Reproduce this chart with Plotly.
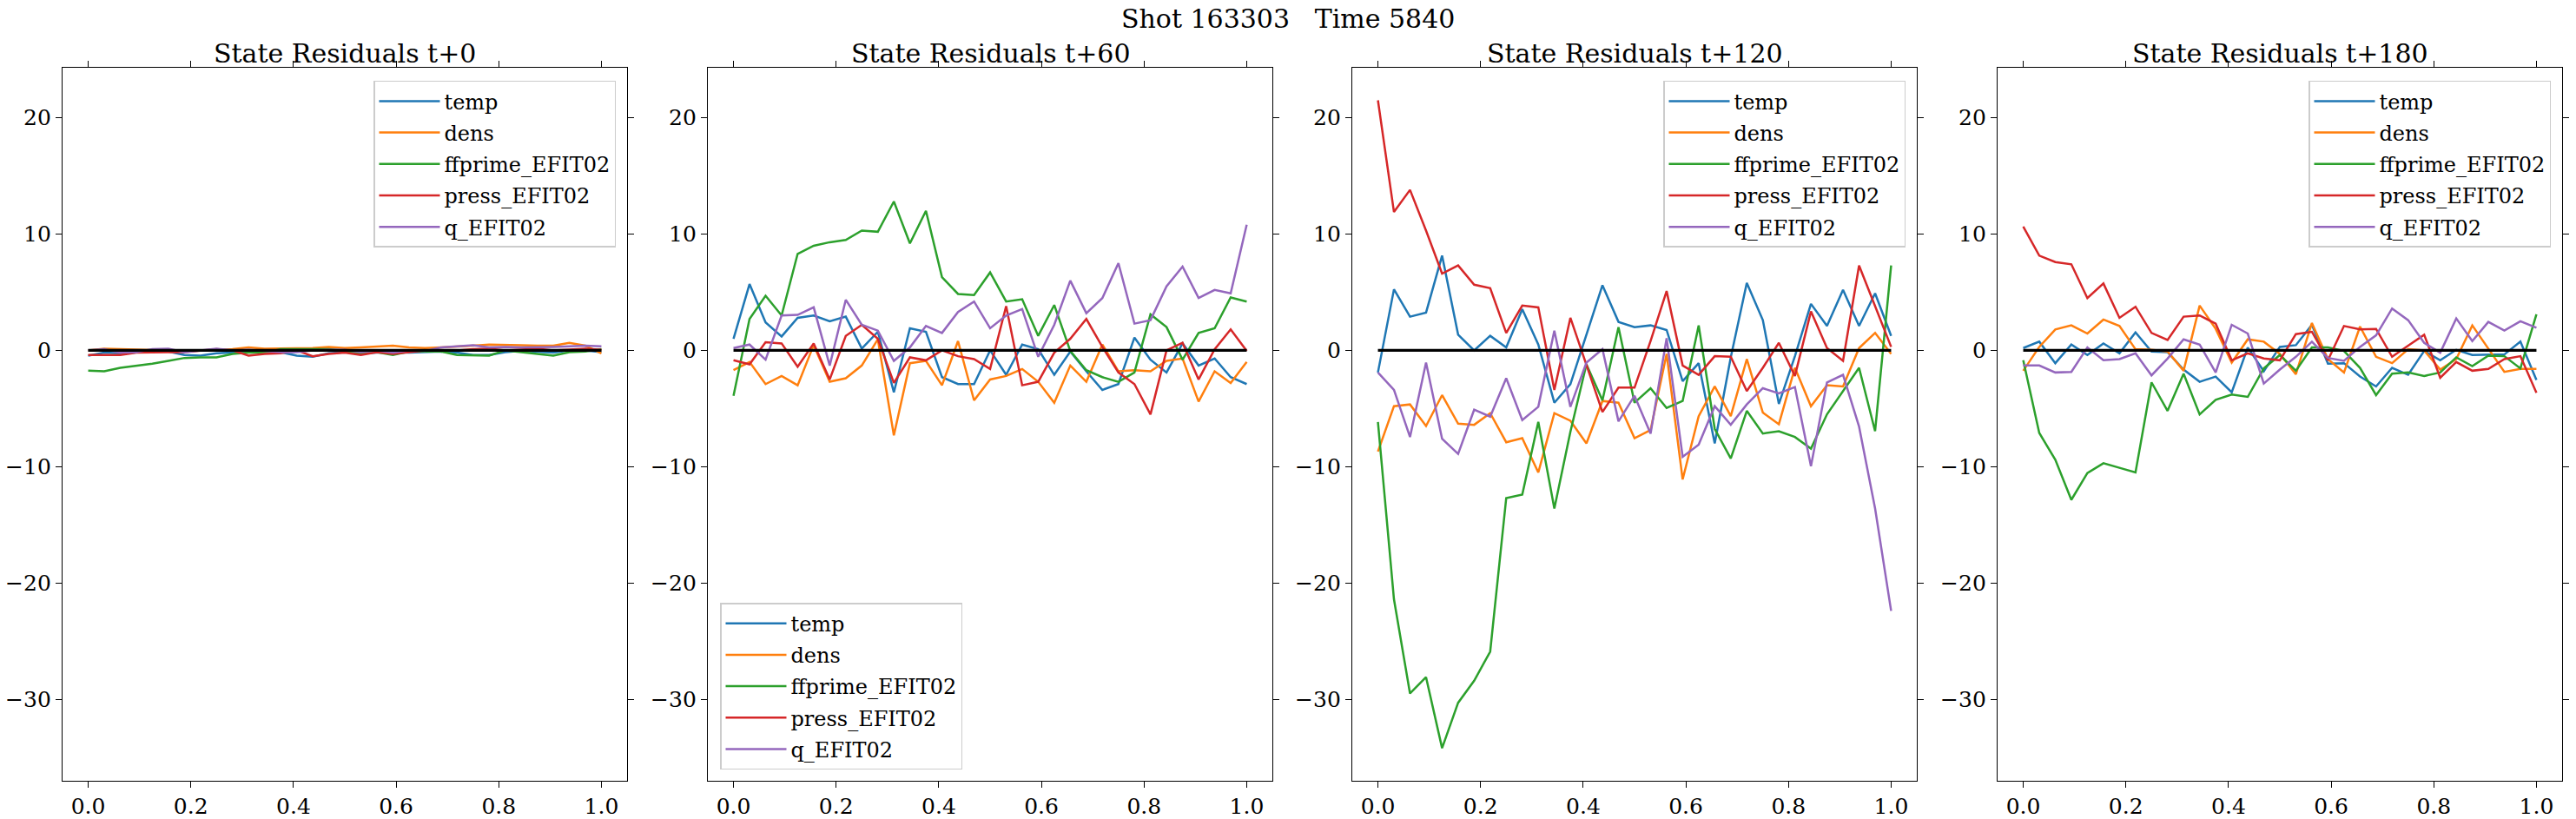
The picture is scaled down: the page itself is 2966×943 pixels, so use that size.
import numpy as np
import plotly.graph_objects as go

x = np.linspace(0, 1, 33)

series_names = ["temp", "dens", "ffprime_EFIT02", "press_EFIT02", "q_EFIT02"]
colors = ["#1f77b4", "#ff7f0e", "#2ca02c", "#d62728", "#9467bd"]
panel_titles = ["State Residuals t+0", "State Residuals t+60", "State Residuals t+120", "State Residuals t+180"]
suptitle = "Shot 163303   Time 5840"

# ---- t+0 ----
t0_temp = [-0.45,-0.2,-0.25,-0.15,-0.1,-0.1,-0.4,-0.45,-0.25,-0.2,-0.15,-0.15,-0.15,-0.45,-0.55,-0.25,-0.15,-0.25,-0.2,-0.15,-0.2,-0.15,-0.1,-0.2,-0.4,-0.4,-0.15,-0.05,-0.15,-0.2,0.0,0.0,-0.15]
t0_dens = [0.0,0.15,0.1,0.05,0.05,0.0,0.0,0.0,0.0,0.1,0.25,0.15,0.15,0.2,0.2,0.3,0.2,0.25,0.35,0.4,0.25,0.2,0.25,0.3,0.4,0.5,0.5,0.45,0.4,0.4,0.65,0.4,-0.25]
t0_ffprime = [-1.75,-1.8,-1.5,-1.35,-1.15,-0.9,-0.65,-0.6,-0.6,-0.3,-0.2,-0.2,0.1,0.1,0.1,0.1,-0.05,-0.25,-0.15,-0.4,-0.1,-0.1,-0.1,-0.4,-0.4,-0.45,0.0,-0.15,-0.3,-0.45,-0.15,-0.1,0.1]
t0_press = [-0.4,-0.4,-0.4,-0.2,-0.15,-0.15,-0.15,0.0,0.1,0.0,-0.45,-0.3,-0.25,0.0,-0.5,-0.3,-0.2,-0.4,-0.15,-0.3,-0.15,0.0,0.0,0.0,0.1,0.15,0.0,0.1,0.15,0.0,0.05,0.15,0.05]
t0_q = [0.0,0.1,-0.2,-0.15,0.1,0.15,-0.15,0.0,0.15,0.0,0.05,-0.05,-0.15,-0.15,0.0,0.05,0.05,-0.15,0.0,-0.2,0.0,-0.05,0.25,0.35,0.45,0.25,0.3,0.25,0.25,0.3,0.35,0.4,0.35]

# ---- t+60 ----
t60_temp = [1.0,5.7,2.4,1.2,2.8,3.0,2.5,2.9,0.15,1.6,-3.6,1.9,1.6,-2.3,-2.9,-2.9,0.0,-2.1,0.5,0.1,-2.1,-0.1,-1.8,-3.4,-2.9,1.1,-0.8,-1.9,0.6,-1.3,-0.7,-2.3,-2.9]
t60_dens = [-1.7,-1.0,-2.9,-2.2,-3.0,0.45,-2.7,-2.4,-1.3,0.95,-7.3,-1.1,-0.9,-3.0,0.8,-4.3,-2.5,-2.2,-1.6,-2.7,-4.5,-1.3,-2.7,0.5,-1.8,-1.7,-1.8,-0.9,-0.7,-4.4,-1.8,-2.8,-1.0]
t60_ffprime = [-3.9,2.7,4.7,3.0,8.3,9.0,9.3,9.5,10.3,10.2,12.8,9.2,12.0,6.3,4.85,4.75,6.7,4.2,4.4,1.25,3.9,-0.05,-1.7,-2.3,-2.7,-1.9,3.1,2.0,-0.8,1.5,1.9,4.55,4.2]
t60_press = [-0.85,-1.2,0.7,0.6,-1.4,0.6,-2.5,1.25,2.2,1.0,-2.8,-0.6,-0.85,0.0,-0.5,-0.75,-1.6,3.8,-3.0,-2.7,-0.2,1.0,2.7,0.3,-1.9,-2.9,-5.5,0.0,0.65,-2.5,0.1,1.8,-0.05]
t60_q = [0.2,0.5,-0.8,3.0,3.05,3.7,-1.3,4.35,2.2,1.7,-0.9,0.25,2.1,1.5,3.3,4.2,1.9,3.0,3.55,-0.55,2.2,6.0,3.2,4.5,7.5,2.3,2.6,5.5,7.2,4.5,5.2,4.9,10.8]

# ---- t+120 ----
t120_temp = [-1.9,5.25,2.9,3.25,8.15,1.35,0.0,1.25,0.25,3.55,0.5,-4.5,-2.9,1.3,5.6,2.45,2.0,2.15,1.75,-2.65,-1.1,-8.0,-0.6,5.8,2.6,-4.6,-0.5,4.0,2.1,5.2,2.1,4.9,1.25]
t120_dens = [-8.7,-4.8,-4.65,-6.5,-3.85,-6.3,-6.4,-5.4,-7.9,-7.55,-10.5,-5.4,-6.05,-8.0,-4.35,-4.5,-7.55,-6.85,-0.3,-11.1,-5.65,-3.1,-5.65,-0.75,-5.35,-6.35,-1.5,-4.8,-3.0,-3.1,0.2,1.5,-0.3]
t120_ffprime = [-6.15,-21.4,-29.5,-28.1,-34.2,-30.3,-28.4,-25.9,-12.7,-12.4,-6.15,-13.6,-7.0,-1.2,-4.3,2.0,-4.5,-3.25,-4.95,-4.35,2.15,-6.75,-9.3,-5.2,-7.15,-6.95,-7.45,-8.45,-5.5,-3.5,-1.5,-6.95,7.3]
t120_press = [21.5,11.9,13.8,10.3,6.6,7.3,5.65,5.35,1.5,3.85,3.7,-3.4,2.8,-1.2,-5.3,-3.2,-3.2,0.8,5.1,-1.3,-2.1,-0.5,-0.55,-3.5,-1.5,0.65,-2.2,3.35,0.2,-0.9,7.3,3.8,0.3]
t120_q = [-1.9,-3.4,-7.45,-1.05,-7.6,-8.9,-5.1,-5.7,-2.4,-6.0,-4.85,1.7,-4.85,-1.05,0.1,-6.1,-3.9,-7.15,1.05,-9.15,-8.1,-4.8,-6.4,-4.65,-3.25,-3.7,-3.15,-9.95,-2.75,-2.1,-6.55,-13.6,-22.4]

# ---- t+180 ----
t180_temp = [0.2,0.75,-1.1,0.5,-0.4,0.6,-0.25,1.55,-0.1,-0.15,-1.65,-2.7,-2.25,-3.6,0.25,-1.8,0.3,0.45,2.2,-1.15,-1.1,-2.25,-3.1,-1.5,-2.1,-0.05,-0.85,0.05,-0.4,-0.35,-0.35,0.75,-2.55]
t180_dens = [-1.75,0.3,1.8,2.15,1.45,2.65,2.1,0.1,0.05,-0.1,-1.75,3.85,1.85,-1.05,0.95,0.75,-0.3,-2.05,2.35,-0.75,-1.9,2.05,-0.55,-1.1,0.1,0.0,-1.65,-0.75,2.15,0.1,-1.85,-1.6,-1.6]
t180_ffprime = [-0.85,-7.1,-9.4,-12.85,-10.55,-9.7,-10.1,-10.5,-2.75,-5.2,-2.0,-5.5,-4.25,-3.8,-4.0,-1.55,-0.4,-1.75,0.25,0.25,-0.05,-1.5,-3.85,-2.0,-1.9,-2.2,-1.9,-0.6,-1.35,-0.45,-0.5,-1.55,3.1]
t180_press = [10.65,8.15,7.6,7.4,4.5,5.75,2.8,3.75,1.5,0.9,2.9,3.0,2.3,-0.85,-0.25,-0.7,-0.85,1.4,1.6,-0.85,2.1,1.8,1.85,-0.55,0.4,1.35,-2.35,-1.0,-1.75,-1.6,-0.75,-0.5,-3.65]
t180_q = [-1.3,-1.3,-1.9,-1.85,0.25,-0.85,-0.75,-0.25,-2.15,-0.7,0.95,0.5,-1.9,2.2,1.45,-2.85,-1.65,-0.55,0.75,-0.65,-0.9,0.3,1.3,3.6,2.6,0.65,-0.2,2.75,0.8,2.45,1.7,2.5,1.95]

panels = [
    [t0_temp, t0_dens, t0_ffprime, t0_press, t0_q],
    [t60_temp, t60_dens, t60_ffprime, t60_press, t60_q],
    [t120_temp, t120_dens, t120_ffprime, t120_press, t120_q],
    [t180_temp, t180_dens, t180_ffprime, t180_press, t180_q],
]

W, H = 2966, 943
FONT = "DejaVu Serif"
lefts = [72, 815, 1557, 2300]
pw = 650
top_px, bot_px = 78.4, 900.6
y_dom = [1 - bot_px / H, 1 - top_px / H]
yr = [-36.985, 24.285]
xr = [-0.05, 1.05]

fig = go.Figure()
legend_names = ["legend", "legend2", "legend3", "legend4"]

for p in range(4):
    sfx = "" if p == 0 else str(p + 1)
    for s in range(5):
        fig.add_trace(go.Scatter(
            x=x, y=panels[p][s], mode="lines", name=series_names[s],
            line=dict(color=colors[s], width=2.5),
            xaxis="x" + sfx, yaxis="y" + sfx, legend=legend_names[p],
            legendgroup="p%d_s%d" % (p, s), showlegend=True,
        ))
    fig.add_trace(go.Scatter(
        x=[0, 1], y=[0, 0], mode="lines", line=dict(color="black", width=3.3),
        xaxis="x" + sfx, yaxis="y" + sfx, showlegend=False, hoverinfo="skip",
    ))

axis_common = dict(
    showgrid=False, zeroline=False, showline=True, linecolor="black", linewidth=1.3,
    mirror="ticks", ticks="outside", ticklen=7, tickwidth=1.3, tickcolor="black",
    tickfont=dict(family=FONT, size=25, color="black"),
)

layout = dict(
    width=W, height=H, margin=dict(l=0, r=0, t=0, b=0),
    paper_bgcolor="white", plot_bgcolor="white",
    font=dict(family=FONT, color="black"),
)
annotations = []
for p in range(4):
    sfx = "" if p == 0 else str(p + 1)
    x0 = lefts[p] / W
    x1 = (lefts[p] + pw) / W
    layout["xaxis" + sfx] = dict(
        domain=[x0, x1], range=xr, anchor="y" + sfx,
        tickvals=[0, 0.2, 0.4, 0.6, 0.8, 1.0], ticktext=["0.0", "0.2", "0.4", "0.6", "0.8", "1.0"],
        **axis_common)
    layout["yaxis" + sfx] = dict(
        domain=y_dom, range=yr, anchor="x" + sfx,
        tickvals=[-30, -20, -10, 0, 10, 20],
        ticktext=["\u221230", "\u221220", "\u221210", "0", "10", "20"],
        **axis_common)
    annotations.append(dict(
        text=panel_titles[p], x=(x0 + x1) / 2, y=1 - 62 / H, xref="paper", yref="paper",
        xanchor="center", yanchor="middle", showarrow=False,
        font=dict(family=FONT, size=30, color="black")))
    leg = dict(
        font=dict(family=FONT, size=24, color="black"),
        bgcolor="rgba(255,255,255,0.8)", bordercolor="#cccccc", borderwidth=1.5,
        itemwidth=70, tracegroupgap=2,
    )
    if p == 1:
        leg.update(x=(lefts[p] + 14) / W, y=1 - 888 / H, xanchor="left", yanchor="bottom")
    else:
        leg.update(x=(lefts[p] + pw - 13) / W, y=1 - 93 / H, xanchor="right", yanchor="top")
    layout[legend_names[p]] = leg

annotations.append(dict(
    text=suptitle, x=0.5, y=1 - 22 / H, xref="paper", yref="paper",
    xanchor="center", yanchor="middle", showarrow=False,
    font=dict(family=FONT, size=30, color="black")))
layout["annotations"] = annotations

fig.update_layout(**layout)
fig.write_html(
    "out.html",
    config={"displayModeBar": False},
    post_script="document.body.style.margin='0';document.body.style.overflow='hidden';",
)
